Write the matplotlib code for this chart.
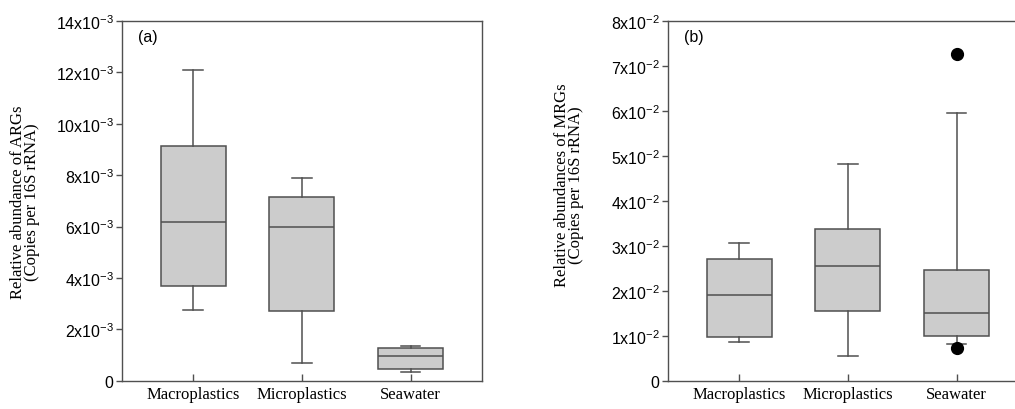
import matplotlib
matplotlib.use("Agg")
import matplotlib.pyplot as plt

plt.rcParams['mathtext.fontset'] = 'custom'
plt.rcParams['mathtext.rm'] = 'Liberation Sans'
plt.rcParams['mathtext.it'] = 'Liberation Sans:italic'
plt.rcParams['mathtext.bf'] = 'Liberation Sans:bold'

categories = ["Macroplastics", "Microplastics", "Seawater"]

# Panel (a): ARGs (x1e-3)
a_whislo = [2.74, 0.70, 0.33]
a_q1 = [3.68, 2.72, 0.455]
a_med = [6.17, 5.98, 0.95]
a_q3 = [9.13, 7.16, 1.27]
a_whishi = [12.1, 7.89, 1.36]
a_fliers = [[], [], []]
a_ticks = [0, 2, 4, 6, 8, 10, 12, 14]
a_ticklabels = ["0"] + [f"{t}x10$^{{-3}}$" for t in [2, 4, 6, 8, 10, 12, 14]]

# Panel (b): MRGs (x1e-2)
b_whislo = [0.87, 0.55, 0.81]
b_q1 = [0.965, 1.54, 1.00]
b_med = [1.90, 2.54, 1.51]
b_q3 = [2.70, 3.37, 2.46]
b_whishi = [3.06, 4.82, 5.96]
b_fliers = [[], [], [7.27, 0.73]]
b_ticks = [0, 1, 2, 3, 4, 5, 6, 7, 8]
b_ticklabels = ["0"] + [f"{t}x10$^{{-2}}$" for t in [1, 2, 3, 4, 5, 6, 7, 8]]

EDGE = "#505050"
FILL = "#cccccc"

fig = plt.figure(figsize=(10.15, 4.10), dpi=100)
W = 359.7 / 1015
H = 359.7 / 410
B = 28.3 / 410
axA = fig.add_axes([122 / 1015, B, W, H])
axB = fig.add_axes([668 / 1015, B, W, H])


def draw(ax, whislo, q1, med, q3, whishi, fliers, ymax, ticks, ticklabels, ylabel, tag, label_xy):
    stats = []
    for i in range(len(categories)):
        stats.append(dict(whislo=whislo[i], q1=q1[i], med=med[i], q3=q3[i],
                          whishi=whishi[i], fliers=fliers[i], label=categories[i]))
    ax.bxp(stats, positions=[1, 2, 3], widths=0.6, capwidths=0.18,
           patch_artist=True, showfliers=True,
           boxprops=dict(facecolor=FILL, edgecolor=EDGE, linewidth=1.1),
           medianprops=dict(color=EDGE, linewidth=1.1),
           whiskerprops=dict(color=EDGE, linewidth=1.1),
           capprops=dict(color=EDGE, linewidth=1.1),
           flierprops=dict(marker='o', markerfacecolor='black', markeredgecolor='black',
                           markersize=8.5, linestyle='none'))
    ax.set_xlim(0.345, 3.655)
    ax.set_ylim(0, ymax)
    ax.set_yticks(ticks)
    ax.set_yticklabels(ticklabels, family='Liberation Sans', fontsize=11.5)
    ax.set_xticks([1, 2, 3])
    ax.set_xticklabels(categories, family='Liberation Serif', fontsize=12)
    ax.tick_params(axis='y', direction='out', length=4, width=1, color=EDGE, pad=2)
    ax.tick_params(axis='x', direction='in', length=5, width=1, color=EDGE, pad=4)
    for s in ax.spines.values():
        s.set_color(EDGE)
        s.set_linewidth(1.0)
    ax.text(0.045, 0.958, tag, transform=ax.transAxes, family='Liberation Sans',
            fontsize=11.5, va='center', ha='left')
    ax.set_ylabel(ylabel, family='Liberation Serif', fontsize=12, linespacing=0.85)
    ax.yaxis.set_label_coords(label_xy[0], label_xy[1])


draw(axA, a_whislo, a_q1, a_med, a_q3, a_whishi, a_fliers, 14, a_ticks, a_ticklabels,
     "Relative abundance of ARGs\n(Copies per 16S rRNA)", "(a)", (-0.228, 0.5))
draw(axB, b_whislo, b_q1, b_med, b_q3, b_whishi, b_fliers, 8, b_ticks, b_ticklabels,
     "Relative abundances of MRGs\n(Copies per 16S rRNA)", "(b)", (-0.234, 0.545))
axB.spines['right'].set_visible(False)

fig.savefig("out.png", dpi=100)
